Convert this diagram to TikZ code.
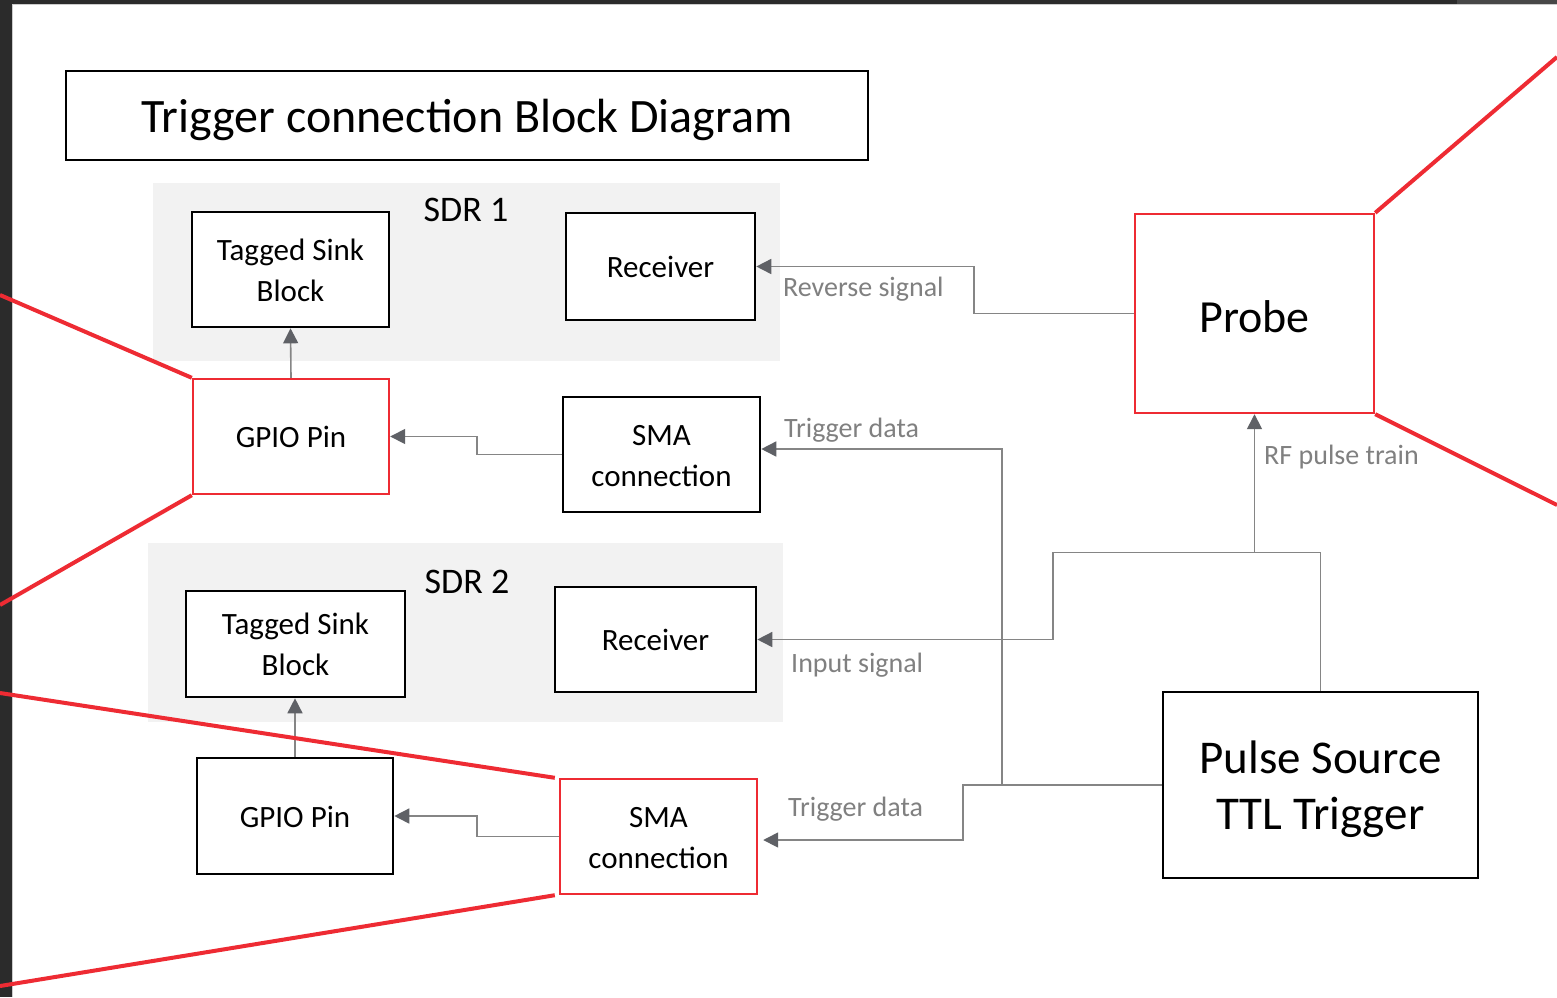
\documentclass[tikz,border=0pt]{standalone}
\usepackage{fontspec}
\setmainfont{Carlito}
\usetikzlibrary{arrows.meta}

\definecolor{frame}{HTML}{2B2B2B}
\definecolor{framelight}{HTML}{474747}
\definecolor{redline}{HTML}{EE2B33}
\definecolor{conngray}{HTML}{858585}
\definecolor{tipgray}{HTML}{5F6166}
\definecolor{labelgray}{HTML}{808080}
\definecolor{panel}{HTML}{F2F2F2}

% invisible struts so that box text is centred on font metrics
\newcommand{\topstrut}{\rule{0pt}{1em}}
\newcommand{\botstrut}{\rule[-0.29em]{0pt}{0.29em}}

\begin{document}
\begin{tikzpicture}[x=1pt,y=-1pt,
  box/.style={draw=black, line width=2.6pt, fill=white, inner sep=0pt,
    align=center, font=\fontsize{31}{41}\selectfont},
  redbox/.style={box, draw=redline, line width=2.4pt},
  conn/.style={draw=conngray, line width=1.6pt,
    -{Triangle[length=15pt,width=15pt,color=tipgray]}},
  lbl/.style={text=labelgray, inner sep=0pt, anchor=west,
    font=\fontsize{28}{34}\selectfont},
  zoomline/.style={draw=redline, line width=4pt},
  sdrlabel/.style={inner sep=0pt, font=\fontsize{36}{40}\selectfont}
]
\useasboundingbox (0,0) rectangle (1557,997);

% window frame and page
\fill[frame] (0,0) rectangle (1557,997);
\fill[framelight] (1457,0) rectangle (1557,4);
\fill[white] (12,4) rectangle (1557,997);
\draw[black!20, line width=0.8pt] (12,997) -- (12,4) -- (1557,4);

% title
\node[box, minimum width=802pt, minimum height=89pt,
  font=\fontsize{48}{56}\selectfont] (title) at (467,115.5)
  {\topstrut Trigger connection Block Diagram\botstrut};

% SDR panels
\fill[panel] (153,183) rectangle (780,361);
\fill[panel] (148,543) rectangle (783,722);
\node[sdrlabel] (sdr1) at (466,210) {SDR 1};
\node[sdrlabel] (sdr2) at (467,582) {SDR 2};

% blocks
\node[box, minimum width=197pt, minimum height=115pt] (tsb1) at (290.5,269.5)
  {\topstrut Tagged Sink\\Block\botstrut};
\node[box, minimum width=189pt, minimum height=107pt] (rx1) at (660.5,266.5)
  {\topstrut Receiver\botstrut};
\node[redbox, minimum width=196pt, minimum height=115pt] (gpio1) at (291,436.5)
  {\topstrut GPIO Pin\botstrut};
\node[box, minimum width=197pt, minimum height=115pt] (sma1) at (661.5,454.5)
  {\topstrut SMA\\connection\botstrut};

\node[box, minimum width=219pt, minimum height=106pt] (tsb2) at (295.5,644)
  {\topstrut Tagged Sink\\Block\botstrut};
\node[box, minimum width=201pt, minimum height=105pt] (rx2) at (655.5,639.5)
  {\topstrut Receiver\botstrut};
\node[box, minimum width=196pt, minimum height=116pt] (gpio2) at (295,816)
  {\topstrut GPIO Pin\botstrut};
\node[redbox, minimum width=197pt, minimum height=115pt] (sma2) at (658.5,836.5)
  {\topstrut SMA\\connection\botstrut};

\node[redbox, minimum width=239pt, minimum height=199pt,
  font=\fontsize{46}{52}\selectfont] (probe) at (1254.5,313.5)
  {\rule{0pt}{1.12em}Probe\botstrut};
\node[box, minimum width=315pt, minimum height=186pt,
  font=\fontsize{47}{56}\selectfont] (pulse) at (1320.5,785)
  {\topstrut Pulse Source\\TTL Trigger\botstrut};

% connectors inside the SDRs
\draw[conn] (gpio1.north) -- (tsb1.south);
\draw[conn] (gpio2.north) -- (gpio2.north |- tsb2.south);
\draw[conn] (sma1.west) -- (477,454.5) |- (gpio1.east);
\draw[conn] (sma2.west) -- (477,836.5) |- (gpio2.east);

% reverse signal from the probe
\draw[conn] (probe.west) -- (974,313.5) |- (rx1.east);

% trigger lines from the pulse source
\coordinate (tjoin) at (1002,785);
\draw[conn] (pulse.west) -- (963,785) |- ([xshift=5pt,yshift=-3.5pt]sma2.east);
\draw[conn] (tjoin) |- ([yshift=5.5pt]sma1.east);

% RF pulse train and input signal
\coordinate (rfjoin) at (1254.5,552.5);
\draw[conn] (pulse.north) |- (rfjoin) -- (probe.south);
\draw[conn] (rfjoin) -- (1053,552.5) |- (rx2.east);

% connector labels
\node[lbl] (lrev) at (783,289) {Reverse signal};
\node[lbl] (ltrig1) at (784,430) {Trigger data};
\node[lbl] (lrf) at (1264,457) {RF pulse train};
\node[lbl] (lin) at (791,665) {Input signal};
\node[lbl] (ltrig2) at (788,809) {Trigger data};

% zoom callout lines
\draw[zoomline] (probe.north east) -- (1557,57);
\draw[zoomline] (probe.south east) -- (1557,505);
\draw[zoomline] (gpio1.north west) -- (0,295);
\draw[zoomline] (gpio1.south west) -- (0,605);
\draw[zoomline] ([xshift=-4pt]sma2.north west) -- (0,693);
\draw[zoomline] ([xshift=-4pt]sma2.south west) -- (0,986);
\end{tikzpicture}
\end{document}
